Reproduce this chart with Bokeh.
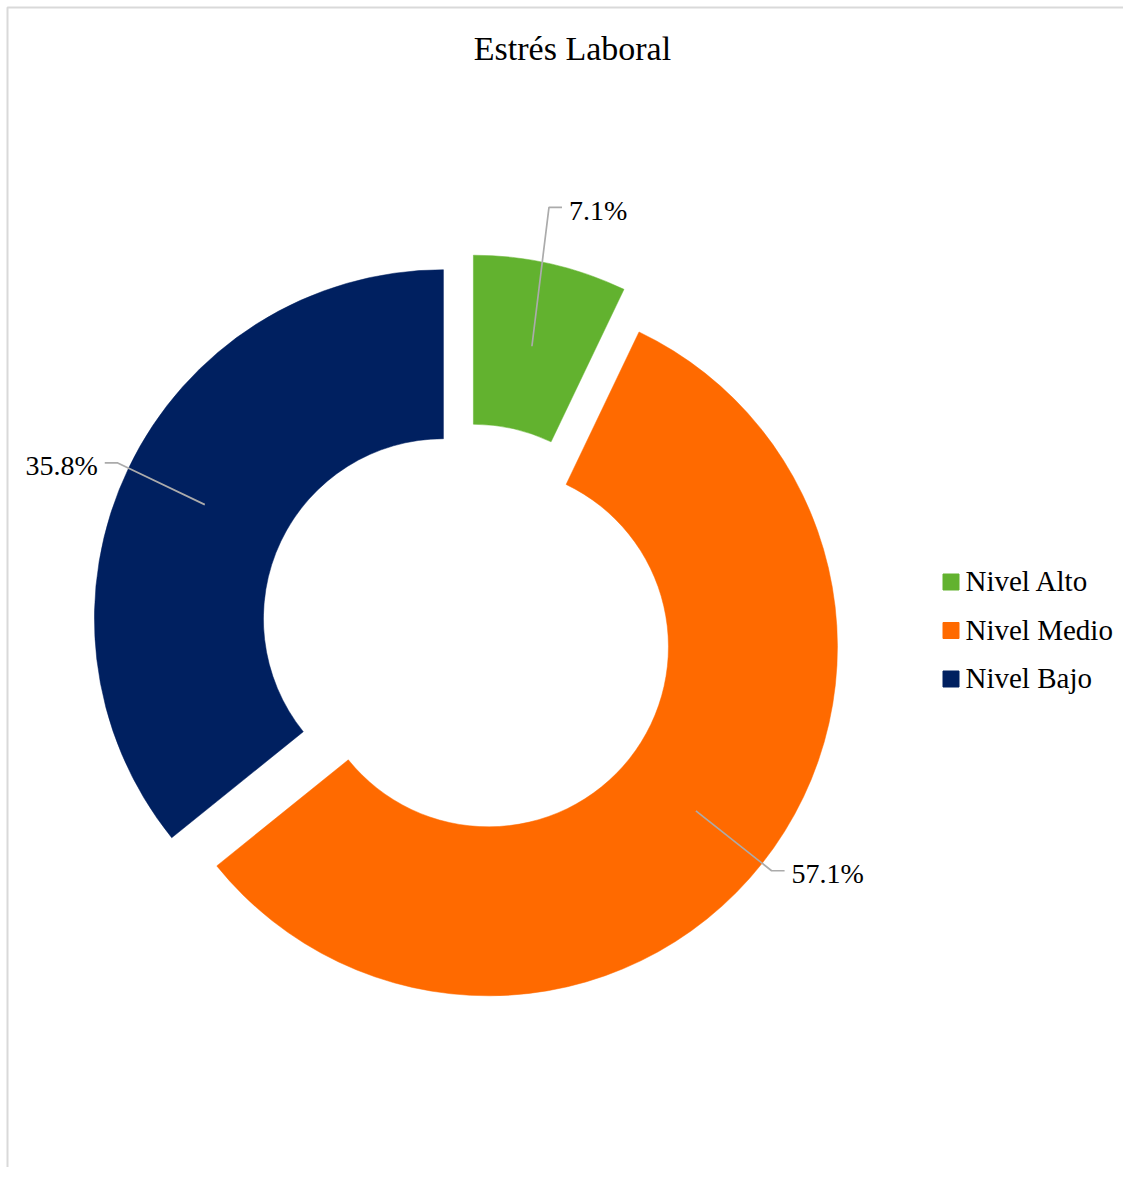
import math
from bokeh.plotting import figure
from bokeh.models import Range1d, ColumnDataSource
from bokeh.core.properties import value
from bokeh.embed import file_html
from bokeh.resources import INLINE

# ---- data ----
title_text = "Estrés Laboral"
categories = ["Nivel Alto", "Nivel Medio", "Nivel Bajo"]
percentages = [7.1, 57.1, 35.8]
label_texts = ["7.1%", "57.1%", "35.8%"]
colors = ["#62B22F", "#FF6A00", "#002060"]

# ---- layout (pixel based) ----
W, H = 1123, 1167


def px(sx):
    return sx


def py(sy):
    return H - sy


CX, CY = px(467), py(629.75)
R_OUT, R_IN = 349, 180
EXPLODE = 26.7
LABEL_DIST = [404, 361, 361]
LABEL_SHIFT_DEG = [2.0, 0.0, 0.0]
FONT = "Liberation Serif"

p = figure(width=W, height=H, output_backend="svg", toolbar_location=None,
           x_range=Range1d(0, W), y_range=Range1d(0, H), min_border=0,
           background_fill_color="white", border_fill_color="white")
p.xaxis.visible = False
p.yaxis.visible = False
p.grid.visible = False
p.outline_line_color = None

# chart-area border (left and top edges visible in the reference)
p.line([px(7), px(7), W], [0, py(7), py(7)], line_color="#D9D9D9", line_width=2)

total = sum(percentages)
cum = 0.0
xs, ys, starts, ends, mids = [], [], [], [], []
for v in percentages:
    f = v / total
    a0 = math.pi / 2 - 2 * math.pi * cum
    a1 = math.pi / 2 - 2 * math.pi * (cum + f)
    m = (a0 + a1) / 2
    starts.append(a0)
    ends.append(a1)
    mids.append(m)
    xs.append(CX + EXPLODE * math.cos(m))
    ys.append(CY + EXPLODE * math.sin(m))
    cum += f

src = ColumnDataSource(dict(x=xs, y=ys, s=starts, e=ends, c=colors))
p.annular_wedge(x="x", y="y", inner_radius=R_IN, outer_radius=R_OUT,
                start_angle="s", end_angle="e", direction="clock",
                fill_color="c", line_color="c", line_width=0.5, source=src)

# ---- data labels with leader lines ----
for i, txt in enumerate(label_texts):
    m = mids[i]
    mr = (R_OUT + R_IN) / 2
    x0 = xs[i] + mr * math.cos(m)
    y0 = ys[i] + mr * math.sin(m)
    la = m + math.radians(LABEL_SHIFT_DEG[i])
    x1 = xs[i] + LABEL_DIST[i] * math.cos(la)
    y1 = ys[i] + LABEL_DIST[i] * math.sin(la)
    side = 1 if math.cos(m) > 0 else -1
    x2 = x1 + side * 13
    p.line([x0, x1, x2], [y0, y1, y1], line_color="#ABABAB", line_width=1.7)
    p.text(x=[x2 + side * 7], y=[y1 - 3], text=[txt],
           text_font=value(FONT), text_font_size="28px", text_color="black",
           text_align="left" if side > 0 else "right", text_baseline="alphabetic")

# ---- legend ----
leg_x = px(950.5)
leg_y0 = 581.5
leg_dy = 48.5
for i, cat in enumerate(categories):
    yy = py(leg_y0 + i * leg_dy)
    p.rect(x=[leg_x], y=[yy], width=16, height=16, fill_color=colors[i],
           line_color=colors[i])
    p.text(x=[px(965)], y=[yy + 1], text=[cat], text_font=value(FONT),
           text_font_size="29px", text_color="black", text_align="left",
           text_baseline="alphabetic")

# ---- title ----
p.text(x=[px(572)], y=[py(48)], text=[title_text], text_font=value(FONT),
       text_font_size="34px", text_color="black", text_align="center",
       text_baseline="alphabetic")

open("out.html", "w").write(file_html(p, INLINE))
